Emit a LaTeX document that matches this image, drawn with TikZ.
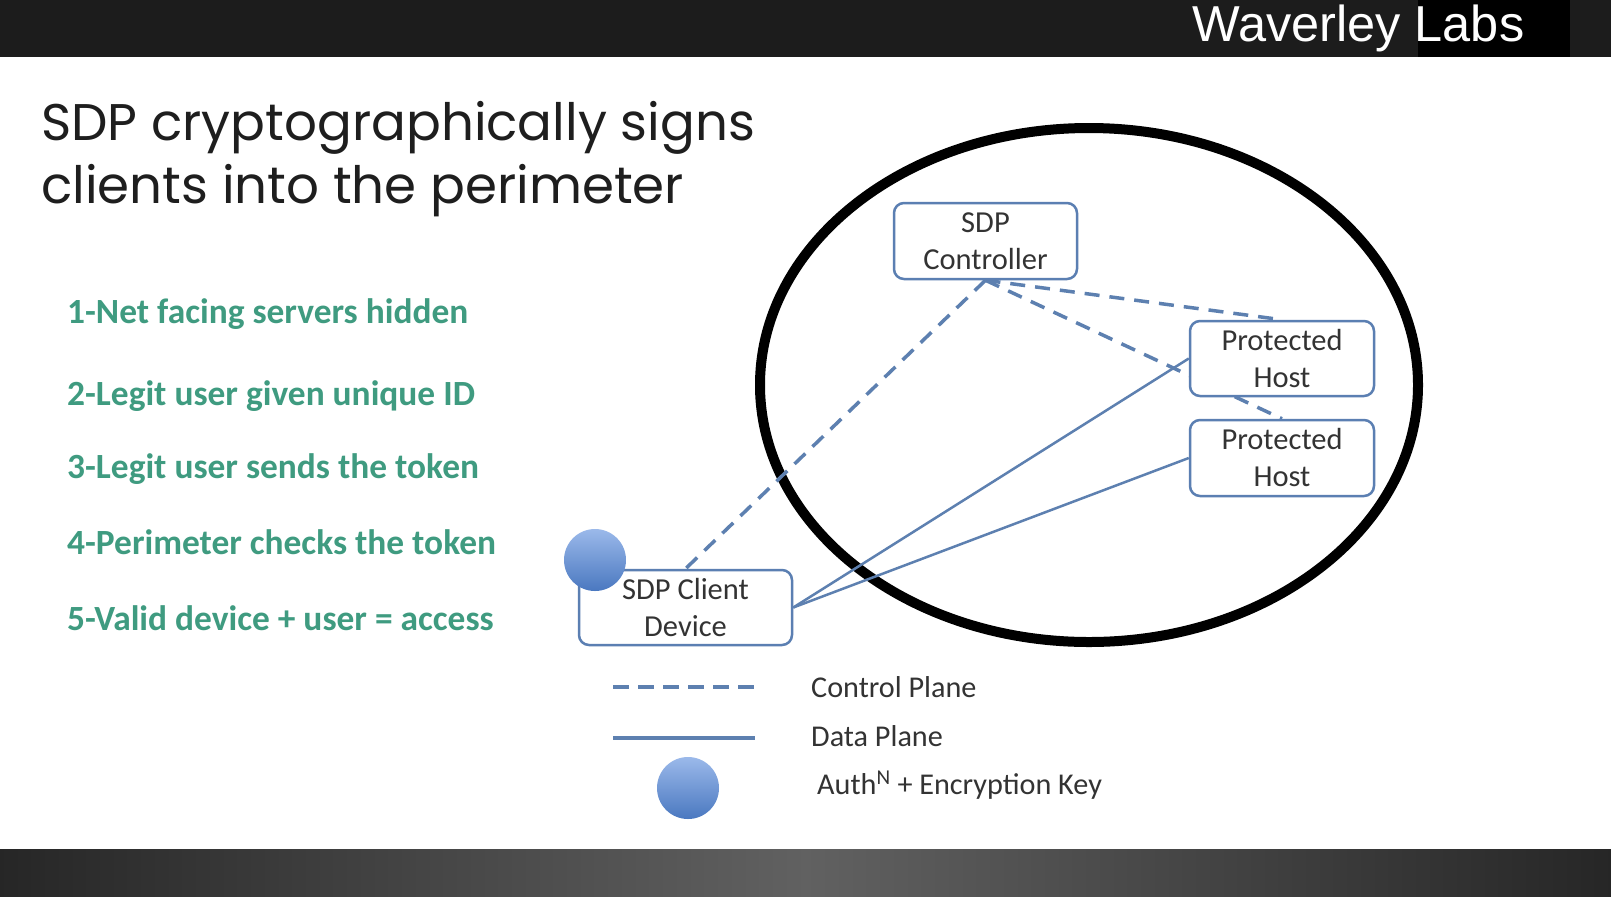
\documentclass[tikz,border=0pt]{standalone}
\usepackage{fontspec}
\usepackage{graphicx}
\setmainfont{Carlito}
\newfontfamily\titlefont{Poppins}
\newfontfamily\labfont{Liberation Sans}
\usetikzlibrary{shapes.geometric}
\pgfdeclarelayer{back}
\pgfdeclarelayer{bg}
\pgfsetlayers{back,bg,main}
\definecolor{barcol}{HTML}{1C1C1C}
\definecolor{titlecol}{HTML}{1E1E1E}
\definecolor{greencol}{HTML}{3F9B80}
\definecolor{boxcol}{HTML}{5B7FB2}
\definecolor{linecol}{HTML}{5D80B0}
\definecolor{txtcol}{HTML}{333333}
\definecolor{balltop}{HTML}{9BB9EA}
\definecolor{ballbot}{HTML}{4A78C0}
\tikzset{
  sdpbox/.style={draw=boxcol, line width=2.5pt, rounded corners=10pt, fill=white,
    text=txtcol, align=center, inner sep=0pt,
    font=\fontsize{30.5}{37}\selectfont},
  ctrlline/.style={draw=linecol, line width=3.5pt, dash pattern=on 15pt off 10pt},
  dataline/.style={draw=linecol, line width=2.5pt},
  keyball/.style={circle, minimum size=62pt, inner sep=0pt, top color=balltop, bottom color=ballbot, draw=none},
  steptext/.style={anchor=base west, text=greencol, font=\fontsize{35.4}{40}\selectfont\bfseries, inner sep=0pt},
  legtext/.style={anchor=base west, text=txtcol, font=\fontsize{30.2}{36}\selectfont, inner sep=0pt},
  titletext/.style={anchor=base west, inner sep=0pt, text=titlecol, font=\titlefont\fontsize{51.5}{63}\selectfont}
}
\begin{document}
\begin{tikzpicture}[x=1pt,y=-1pt]
\useasboundingbox (0,0) rectangle (1611,898);
\begin{pgfonlayer}{back}
\fill[white] (0,0) rectangle (1611,898);
\end{pgfonlayer}
% top bar
\fill[barcol] (0,0) rectangle (1611,57);
\fill[black] (1418,0) rectangle (1570,57);
\node[anchor=base west, inner sep=0pt, text=white, font=\labfont\fontsize{50.5}{56}\selectfont] (brand) at (1192,41) {Waverley Labs};
% bottom bar
\shade[left color=black!85, right color=black!85, middle color=black!62] (0,849) rectangle (1611,896);
% title
\node[titletext] (title1) at (41,140) {SDP cryptographically signs};
\node[titletext] (title2) at (41,203) {clients into the perimeter};
% steps
\node[steptext] (s1) at (67,323) {1-Net facing servers hidden};
\node[steptext] (s2) at (67,405) {2-Legit user given unique ID};
\node[steptext] (s3) at (67,478) {3-Legit user sends the token};
\node[steptext] (s4) at (67,554) {4-Perimeter checks the token};
\node[steptext] (s5) at (67,630) {5-Valid device + user = access};
% boxes
\node[sdpbox, minimum width=183pt, minimum height=76pt] (ctrl) at (985.5,241) {SDP\\Controller};
\node[sdpbox, minimum width=184pt, minimum height=75pt] (ph1) at (1282,358.5) {Protected\\Host};
\node[sdpbox, minimum width=184pt, minimum height=76pt] (ph2) at (1282,458) {Protected\\Host};
\node[sdpbox, minimum width=213pt, minimum height=75pt] (client) at (685.5,607.5) {SDP Client\\Device};
\node[keyball] (key) at (595,560) {};
\begin{pgfonlayer}{bg}
\draw[black, line width=10pt] (1089,385) ellipse [x radius=329, y radius=257];
\draw[ctrlline] (ctrl.south) -- (client.north);
\draw[ctrlline] (ctrl.south) -- (ph1.north);
\draw[ctrlline] (ctrl.south) -- (ph2.north);
\draw[dataline] (client.east) -- (ph1.west);
\draw[dataline] (client.east) -- (ph2.west);
\end{pgfonlayer}
% legend
\coordinate (cpA) at (613,687);
\coordinate (cpB) at (755,687);
\coordinate (dpA) at (613,738);
\coordinate (dpB) at (755,738);
\draw[draw=linecol, line width=4pt, dash pattern=on 16pt off 9pt] (cpA) -- (cpB);
\draw[draw=linecol, line width=4pt] (dpA) -- (dpB);
\node[keyball] (legkey) at (688,788) {};
\node[legtext] (lcp) at (811,697) {Control Plane};
\node[legtext] (ldp) at (811,746) {Data Plane};
\node[legtext] (lkey) at (817,794) {Auth\textsuperscript{N} + Encryption Key};
\end{tikzpicture}
\end{document}
